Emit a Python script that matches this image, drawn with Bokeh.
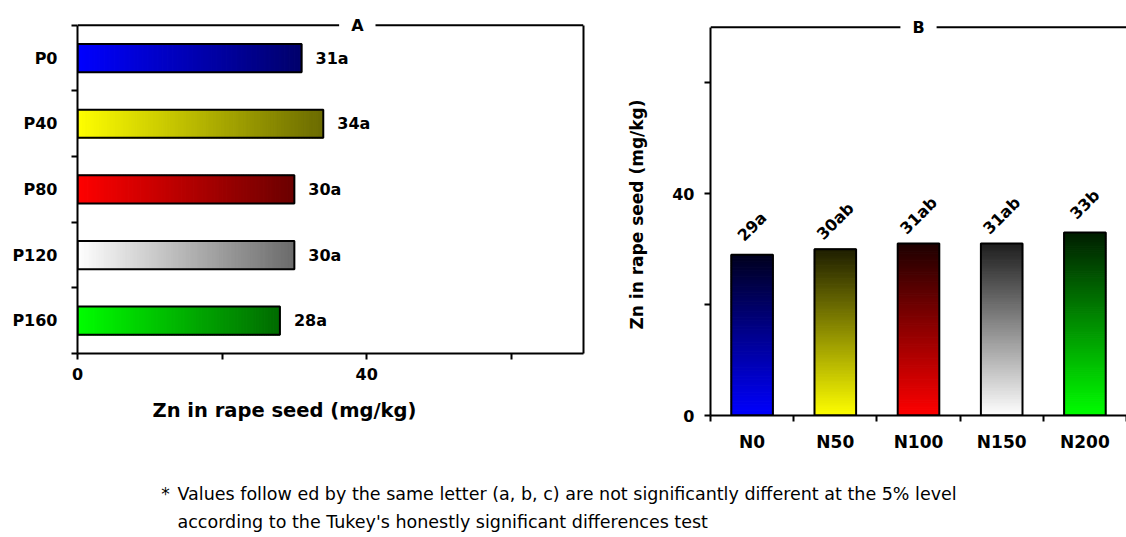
from bokeh.plotting import figure
from bokeh.models import Range1d, FixedTicker, LinearAxis, Label, LabelSet, ColumnDataSource, Span, Title
from bokeh.layouts import row, column
from bokeh.core.properties import value
from bokeh.embed import file_html
from bokeh.resources import INLINE

# ---------------- data ----------------
p_levels = ["P0", "P40", "P80", "P120", "P160"]
p_values = [31, 34, 30, 30, 28]
p_letters = ["a", "a", "a", "a", "a"]

n_levels = ["N0", "N50", "N100", "N150", "N200"]
n_values = [29, 30, 31, 31, 33]
n_letters = ["a", "ab", "ab", "ab", "b"]

value_ticks = [0, 20, 40, 60]
value_tick_labels = {0: "0", 20: "", 40: "40", 60: ""}
value_max = 70

axis_title = "Zn in rape seed (mg/kg)"
note_lines = [
    "Values follow ed by the same letter (a, b, c) are not significantly different at the 5% level",
    "according to the Tukey's honestly significant differences  test",
]

base_colors = [(0, 0, 255), (255, 255, 0), (255, 0, 0), (255, 255, 255), (0, 255, 0)]

BOLD = "DejaVu Sans"
REG = "DejaVu Sans"
NS = 90


def shade(rgb, f):
    return "#%02x%02x%02x" % tuple(max(0, min(255, int(round(c * f)))) for c in rgb)


def style_axis(ax, size):
    ax.axis_line_width = 2
    ax.axis_line_color = "black"
    ax.major_tick_line_width = 2
    ax.minor_tick_line_width = 2
    ax.major_tick_out = 6
    ax.major_tick_in = 0
    ax.minor_tick_out = 6
    ax.minor_tick_in = 0
    ax.major_label_text_font = BOLD
    ax.major_label_text_font_style = "bold"
    ax.major_label_text_font_size = size
    ax.major_label_text_color = "black"


def blank_axis(bounds=None):
    ax = LinearAxis(ticker=FixedTicker(ticks=[]), major_label_text_font_size="0px")
    ax.axis_line_width = 2
    ax.axis_line_color = "black"
    ax.major_tick_line_color = None
    ax.minor_tick_line_color = None
    if bounds is not None:
        ax.bounds = bounds
    return ax


# ---------------- panel A ----------------
A_top_ext = 0.21  # extra room above the top border (category units)
pA = figure(width=600, height=455, x_range=Range1d(0, value_max), y_range=Range1d(5.5, 0.5 - A_top_ext),
            output_backend="svg", toolbar_location=None,
            min_border_left=77, min_border_right=17, min_border_top=11, min_border_bottom=102)
pA.outline_line_color = None
pA.xgrid.visible = False
pA.ygrid.visible = False

posA = list(range(1, len(p_levels) + 1))
bx = pA.below[0]
style_axis(bx, "16px")
bx.ticker = FixedTicker(ticks=value_ticks)
bx.major_label_overrides = value_tick_labels
bx.major_label_standoff = 8

ly = pA.left[0]
style_axis(ly, "16px")
ly.ticker = FixedTicker(ticks=posA, minor_ticks=[k + 0.5 for k in range(0, len(p_levels) + 1)])
ly.major_label_overrides = {k: lab for k, lab in zip(posA, p_levels)}
ly.major_tick_line_color = None
ly.major_label_standoff = 14
ly.bounds = (0.5, 5.5)

pA.add_layout(blank_axis(bounds=(0.5, 5.5)), "right")
pA.add_layout(Span(location=0.5, dimension="width", line_color="black", line_width=2))

# axis title, placed like the original (left of the frame centre)
pA.add_layout(Title(text=axis_title, align="left", offset=75, standoff=29,
                    text_font=BOLD, text_font_style="bold", text_font_size="19.5px", text_color="black"),
              "below")

ys, lefts, rights, cols = [], [], [], []
for i, (v, c) in enumerate(zip(p_values, base_colors)):
    for j in range(NS):
        ys.append(posA[i])
        lefts.append(v * j / NS)
        rights.append(v * (j + 1) / NS)
        cols.append(shade(c, 1 - (1 - 0.42) * (j + 0.5) / NS))
pA.hbar(y=ys, left=lefts, right=rights, height=0.43, fill_color=cols, line_color=cols, line_width=1.2)
pA.hbar(y=posA, left=0, right=p_values, height=0.43, fill_color=None, line_color="black", line_width=2)

srcA = ColumnDataSource(dict(x=p_values, y=posA, t=[f"{v}{l}" for v, l in zip(p_values, p_letters)]))
pA.add_layout(LabelSet(x="x", y="y", text="t", source=srcA, x_offset=14, text_baseline="middle",
                       text_font=value(BOLD), text_font_style="bold", text_font_size="16px", text_color="black"))

pA.add_layout(Label(x=value_max * 0.553, y=0.5, text="A", text_align="center", text_baseline="middle",
                    text_font=BOLD, text_font_style="bold", text_font_size="16px", text_color="black",
                    background_fill_color="white", padding=12, level="overlay"))

# ---------------- panel B ----------------
B_top_ext = 2.5
pB = figure(width=526, height=455, x_range=Range1d(0.5, 5.5), y_range=Range1d(0, value_max + B_top_ext),
            output_backend="svg", toolbar_location=None,
            min_border_left=110, min_border_right=0, min_border_top=13, min_border_bottom=40)
pB.outline_line_color = None
pB.xgrid.visible = False
pB.ygrid.visible = False

posB = list(range(1, len(n_levels) + 1))
by = pB.left[0]
style_axis(by, "16px")
by.ticker = FixedTicker(ticks=value_ticks)
by.major_label_overrides = value_tick_labels
by.major_label_standoff = 10
by.bounds = (0, value_max)
by.axis_label = axis_title
by.axis_label_text_font = BOLD
by.axis_label_text_font_style = "bold"
by.axis_label_text_font_size = "17px"
by.axis_label_text_color = "black"
by.axis_label_standoff = 22

bxB = pB.below[0]
style_axis(bxB, "17px")
bxB.ticker = FixedTicker(ticks=posB, minor_ticks=[k + 0.5 for k in range(0, len(n_levels) + 1)])
bxB.major_label_overrides = {k: lab for k, lab in zip(posB, n_levels)}
bxB.major_tick_line_color = None
bxB.major_label_standoff = 10

pB.add_layout(Span(location=value_max, dimension="width", line_color="black", line_width=2))

xs, bots, tops, colsB = [], [], [], []
for i, (v, c) in enumerate(zip(n_values, base_colors)):
    for j in range(NS):
        xs.append(posB[i])
        bots.append(v * j / NS)
        tops.append(v * (j + 1) / NS)
        colsB.append(shade(c, 1 - (1 - 0.12) * (j + 0.5) / NS))
pB.vbar(x=xs, bottom=bots, top=tops, width=0.5, fill_color=colsB, line_color=colsB, line_width=1.2)
pB.vbar(x=posB, bottom=0, top=n_values, width=0.5, fill_color=None, line_color="black", line_width=2)

srcB = ColumnDataSource(dict(x=posB, y=n_values, t=[f"{v}{l}" for v, l in zip(n_values, n_letters)]))
pB.add_layout(LabelSet(x="x", y="y", text="t", source=srcB, y_offset=28, angle=45, angle_units="deg",
                       text_align="center", text_baseline="middle",
                       text_font=value(BOLD), text_font_style="bold", text_font_size="16px", text_color="black"))

pB.add_layout(Label(x=3, y=value_max, text="B", text_align="center", text_baseline="middle",
                    text_font=BOLD, text_font_style="bold", text_font_size="16px", text_color="black",
                    background_fill_color="white", padding=12, level="overlay"))

# ---------------- footnote ----------------
pF = figure(width=1126, height=82, x_range=Range1d(0, 1126), y_range=Range1d(82, 0),
            output_backend="svg", toolbar_location=None, min_border=0)
pF.axis.visible = False
pF.xgrid.visible = False
pF.ygrid.visible = False
pF.outline_line_color = None
pF.add_layout(Label(x=165, y=38, text="*", text_align="center", text_baseline="middle",
                    text_font=REG, text_font_size="17px", text_color="black"))
for k, line in enumerate(note_lines):
    pF.add_layout(Label(x=177, y=38 + 28 * k, text=line, text_baseline="middle",
                        text_font=REG, text_font_size="17.5px", text_color="black"))

layout = column(row(column(pA), column(pB)), pF)
open("out.html", "w").write(file_html(layout, INLINE))
